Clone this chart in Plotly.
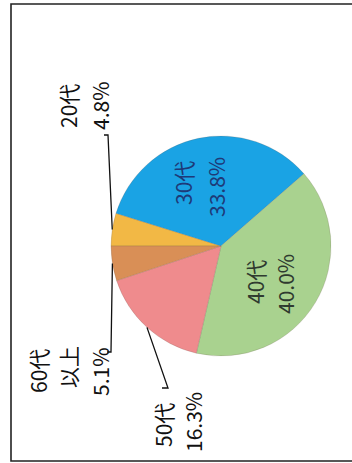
import math
import plotly.graph_objects as go

# Age-group share (clockwise, first slice starting at 9 o'clock)
age_groups = ["20代", "30代", "40代", "50代", "60代以上"]
shares = [4.8, 33.8, 40.0, 16.3, 5.1]
slice_colors = ["#F2B845", "#1AA3E4", "#A9D28F", "#EF8B8D", "#D98F56"]

# Label text lines, as drawn (each label reads bottom-to-top)
label_lines = {
    "20代": ["20代", "4.8%"],
    "30代": ["30代", "33.8%"],
    "40代": ["40代", "40.0%"],
    "50代": ["50代", "16.3%"],
    "60代以上": ["60代", "以上", "5.1%"],
}

W, H = 352, 463
CX, CY, R = 221, 246, 110          # pie centre / radius in pixels
START_DEG = 270                     # first slice starts at 9 o'clock
FONT = "Noto Sans CJK JP"
FS = 21

def px(x):
    return x / W

def py(y):
    return 1 - y / H

fig = go.Figure(go.Pie(
    labels=age_groups,
    values=shares,
    sort=False,
    direction="clockwise",
    rotation=START_DEG,
    marker=dict(colors=slice_colors, line=dict(color="rgba(110,90,80,0.35)", width=0.6)),
    textinfo="none",
    hoverinfo="label+percent",
    showlegend=False,
    domain=dict(x=[px(CX - R), px(CX + R)], y=[py(CY + R), py(CY - R)]),
))

# mid-angle of each slice (clockwise from 12 o'clock), from the data
total = sum(shares)
mid_angle = {}
acc = 0.0
for name, v in zip(age_groups, shares):
    a = START_DEG + (acc + v / 2) / total * 360
    mid_angle[name] = a
    acc += v

def edge_point(name, r=R):
    a = math.radians(mid_angle[name])
    return CX + r * math.sin(a), CY - r * math.cos(a)

# label column positions: (x of each line, y centre of each line)
label_pos = {
    "20代": [(68, 106), (100, 106)],
    "30代": [(183, 183), (216, 187)],
    "40代": [(255, 282), (285, 284)],
    "50代": [(163, 425), (193, 422)],
    "60代以上": [(38, 371), (68, 367), (100, 372)],
}
label_color = {
    "20代": "#111111",
    "30代": "#1E3A78",
    "40代": "#2F3A2F",
    "50代": "#111111",
    "60代以上": "#111111",
}

annotations = []
for name in age_groups:
    for text, (x, y) in zip(label_lines[name], label_pos[name]):
        annotations.append(dict(
            x=px(x), y=py(y), xref="paper", yref="paper",
            text=text, showarrow=False, textangle=-90,
            xanchor="center", yanchor="middle",
            font=dict(family=FONT, size=FS, color=label_color[name]),
        ))

shapes = []
# leader lines for the outside labels: label end -> slice edge
leaders = {
    "20代": [(104, 135), (108, 135)],
    "60代以上": [(107, 352), (111, 352)],
    "50代": [(162, 388), (168, 388)],
}
for name, pts in leaders.items():
    ex, ey = edge_point(name)
    path_pts = pts + [(ex, ey)]
    d = "M " + " L ".join(f"{px(x)},{py(y)}" for x, y in path_pts)
    shapes.append(dict(type="path", xref="paper", yref="paper", path=d,
                       line=dict(color="#111111", width=1.3)))

# frame around the chart
shapes.append(dict(type="rect", xref="paper", yref="paper",
                   x0=px(11), x1=px(W + 5), y0=py(461), y1=py(4),
                   line=dict(color="#222222", width=1.6), fillcolor="rgba(0,0,0,0)"))

fig.update_layout(
    width=W, height=H,
    margin=dict(l=0, r=0, t=0, b=0),
    paper_bgcolor="white",
    plot_bgcolor="white",
    annotations=annotations,
    shapes=shapes,
)

fig.write_html("out.html")
